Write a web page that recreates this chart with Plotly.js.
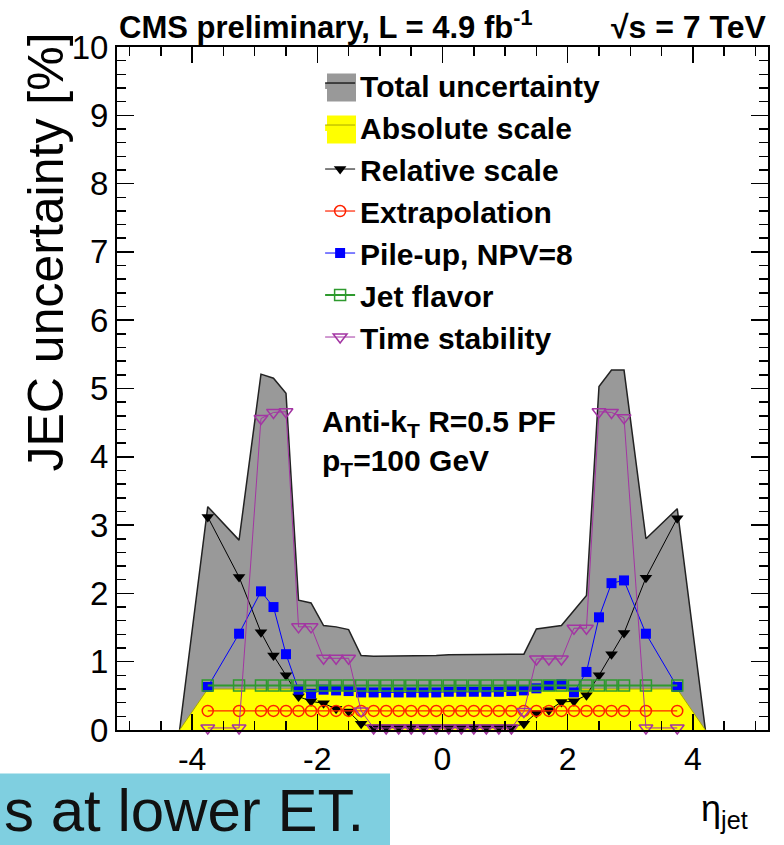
<!DOCTYPE html>
<html>
<head>
<meta charset="utf-8">
<script src="https://cdn.plot.ly/plotly-3.0.1.min.js"></script>
<style>
  html, body { margin: 0; padding: 0; background: #ffffff; }
  #chart { width: 784px; height: 845px; }
</style>
</head>
<body>
<div id="chart"></div>
<script>
// ---- data ----
const bandEta = [-4.2, -3.75, -3.25, -2.9, -2.7, -2.5, -2.3, -2.1, -1.9, -1.7, -1.5, -1.3,
  -1.1, -0.9, -0.7, -0.5, -0.3, -0.1, 0.1, 0.3, 0.5, 0.7, 0.9, 1.1,
  1.3, 1.5, 1.7, 1.9, 2.1, 2.3, 2.5, 2.7, 2.9, 3.25, 3.75, 4.2];
const totalUnc = [0, 3.27, 2.78, 5.21, 5.15, 4.93, 1.90, 1.86, 1.53, 1.51, 1.47, 1.09,
  1.08, 1.08, 1.08, 1.09, 1.09, 1.09, 1.10, 1.10, 1.10, 1.11, 1.11, 1.11,
  1.11, 1.48, 1.50, 1.53, 1.75, 1.97, 5.03, 5.27, 5.27, 2.80, 3.24, 0];
const absoluteScale = [0, 0.6, 0.6, 0.6, 0.6, 0.6, 0.6, 0.6, 0.6, 0.6, 0.6, 0.6,
  0.6, 0.6, 0.6, 0.6, 0.6, 0.6, 0.6, 0.6, 0.6, 0.6, 0.6, 0.6,
  0.6, 0.6, 0.6, 0.6, 0.6, 0.6, 0.6, 0.6, 0.6, 0.6, 0.6, 0];

const etaBins = [-3.75, -3.25, -2.9, -2.7, -2.5, -2.3, -2.1, -1.9, -1.7, -1.5, -1.3,
  -1.1, -0.9, -0.7, -0.5, -0.3, -0.1, 0.1, 0.3, 0.5, 0.7, 0.9, 1.1,
  1.3, 1.5, 1.7, 1.9, 2.1, 2.3, 2.5, 2.7, 2.9, 3.25, 3.75];
const relativeScale = [3.12, 2.24, 1.43, 1.09, 0.80, 0.49, 0.42, 0.39, 0.31, 0.27, 0.09,
  0.04, 0.04, 0.04, 0.04, 0.04, 0.04, 0.04, 0.04, 0.04, 0.04, 0.04, 0.04,
  0.09, 0.25, 0.29, 0.41, 0.42, 0.51, 0.80, 1.11, 1.42, 2.23, 3.10];
const extrapolation = [0.28, 0.28, 0.28, 0.28, 0.28, 0.28, 0.28, 0.28, 0.28, 0.28, 0.28,
  0.28, 0.28, 0.28, 0.28, 0.28, 0.28, 0.28, 0.28, 0.28, 0.28, 0.28, 0.28,
  0.28, 0.28, 0.28, 0.28, 0.28, 0.28, 0.28, 0.28, 0.28, 0.28, 0.28];
const pileUp = [0.63, 1.41, 2.03, 1.80, 1.11, 0.59, 0.53, 0.59, 0.58, 0.57, 0.55,
  0.55, 0.55, 0.55, 0.55, 0.55, 0.55, 0.56, 0.56, 0.56, 0.56, 0.56, 0.57,
  0.58, 0.61, 0.65, 0.67, 0.55, 0.85, 1.65, 2.15, 2.19, 1.41, 0.63];
const jetFlavor = [0.65, 0.65, 0.65, 0.65, 0.65, 0.65, 0.65, 0.65, 0.65, 0.65, 0.65,
  0.65, 0.65, 0.65, 0.65, 0.65, 0.65, 0.65, 0.65, 0.65, 0.65, 0.65, 0.65,
  0.65, 0.65, 0.65, 0.65, 0.65, 0.65, 0.65, 0.65, 0.65, 0.65, 0.65];
const timeStability = [0.03, 0.03, 4.56, 4.65, 4.66, 1.51, 1.51, 1.05, 1.05, 1.05, 0.28,
  0.03, 0.03, 0.03, 0.03, 0.03, 0.03, 0.03, 0.03, 0.03, 0.03, 0.03, 0.03,
  0.27, 1.04, 1.04, 1.04, 1.49, 1.49, 4.66, 4.65, 4.57, 0.03, 0.03];

const seriesNames = ["Total uncertainty", "Absolute scale", "Relative scale", "Extrapolation",
  "Pile-up, NPV=8", "Jet flavor", "Time stability"];
const xTickVals = [-4, -2, 0, 2, 4];
const xTickText = ["-4", "-2", "0", "2", "4"];

// ---- chart ----
const FONT = "Liberation Sans, Arial, Helvetica, sans-serif";
const W = 651, H = 683, L0 = 117, B0 = 729.5;
const px = (x) => (x - L0) / W;          // pixel -> paper x
const py = (y) => (B0 - y) / H;          // pixel -> paper y

const traces = [
  { x: bandEta, y: totalUnc, name: seriesNames[0], type: "scatter", mode: "lines",
    fill: "tozeroy", fillcolor: "#999999", line: { color: "#222222", width: 1.5 } },
  { x: bandEta, y: absoluteScale, name: seriesNames[1], type: "scatter", mode: "lines",
    fill: "tozeroy", fillcolor: "#ffff00", line: { color: "#a8a800", width: 1 } },
  { x: etaBins, y: relativeScale, name: seriesNames[2], type: "scatter", mode: "lines+markers",
    line: { color: "#000000", width: 1 }, cliponaxis: false,
    marker: { symbol: "triangle-down", size: 11, color: "#000000" } },
  { x: etaBins, y: extrapolation, name: seriesNames[3], type: "scatter", mode: "lines+markers",
    line: { color: "#ff2200", width: 1.2 }, cliponaxis: false,
    marker: { symbol: "circle-open", size: 11, color: "#ff2200", line: { width: 1.5 } } },
  { x: etaBins, y: pileUp, name: seriesNames[4], type: "scatter", mode: "lines+markers",
    line: { color: "#0000ff", width: 1 }, cliponaxis: false,
    marker: { symbol: "square", size: 10, color: "#0000ff" } },
  { x: etaBins, y: jetFlavor, name: seriesNames[5], type: "scatter", mode: "lines+markers",
    line: { color: "#2e9a2e", width: 2 }, cliponaxis: false,
    marker: { symbol: "square-open", size: 11, color: "#2e9a2e", line: { width: 1.5 } } },
  { x: etaBins, y: timeStability, name: seriesNames[6], type: "scatter", mode: "lines+markers",
    line: { color: "#a335a3", width: 1 }, cliponaxis: false,
    marker: { symbol: "triangle-down-open", size: 12, color: "#a335a3", line: { width: 1.5 } } }
];

const layout = {
  width: 784, height: 845,
  margin: { l: 117, r: 16, t: 47, b: 115, pad: 0 },
  paper_bgcolor: "#ffffff", plot_bgcolor: "#ffffff",
  font: { family: FONT, color: "#000000" },
  showlegend: true,
  legend: {
    x: 0.312, y: 0.9824, xanchor: "left", yanchor: "top",
    bgcolor: "rgba(0,0,0,0)", borderwidth: 0,
    font: { family: FONT, size: 30, weight: 700, color: "#000000" },
    itemwidth: 30, tracegroupgap: 0
  },
  xaxis: {
    range: [-5.2, 5.2], tickmode: "array", tickvals: xTickVals, ticktext: xTickText,
    ticks: "inside", ticklen: 16, tickwidth: 1.5, tickcolor: "#000000",
    minor: { tickmode: "linear", tick0: 0, dtick: 0.5, ticks: "inside", ticklen: 9, tickwidth: 1.5, tickcolor: "#000000" },
    showline: true, linecolor: "#000000", linewidth: 2, mirror: "allticks",
    showgrid: false, zeroline: false,
    tickfont: { family: FONT, size: 32, color: "#000000" }
  },
  yaxis: {
    range: [0, 10], tickmode: "linear", tick0: 0, dtick: 1,
    ticks: "inside", ticklen: 17, tickwidth: 1.5, tickcolor: "#000000",
    minor: { tickmode: "linear", tick0: 0, dtick: 0.2, ticks: "inside", ticklen: 9, tickwidth: 1.5, tickcolor: "#000000" },
    showline: true, linecolor: "#000000", linewidth: 2, mirror: "allticks",
    showgrid: false, zeroline: false,
    tickfont: { family: FONT, size: 33, color: "#000000" }
  },
  shapes: [
    // legend boxes for the two bands (square swatches as in the reference)
    { type: "rect", xref: "paper", yref: "paper", x0: px(327), x1: px(356), y0: py(101), y1: py(73),
      fillcolor: "#999999", line: { width: 0 }, layer: "above" },
    { type: "rect", xref: "paper", yref: "paper", x0: px(327), x1: px(356), y0: py(143), y1: py(115),
      fillcolor: "#ffff00", line: { width: 0 }, layer: "above" },
    // slide overlay box at the bottom left
    { type: "rect", xref: "paper", yref: "paper", x0: px(0), x1: px(390), y0: py(846), y1: py(773),
      fillcolor: "#7fcfe0", line: { width: 0 }, layer: "above" }
  ],
  annotations: [
    { xref: "paper", yref: "paper", x: 0, y: 1.0, xanchor: "left", yanchor: "bottom",
      text: "CMS preliminary, L = 4.9 fb<sup>-1</sup>", showarrow: false,
      font: { family: FONT, size: 31, weight: 700, color: "#000000" } },
    { xref: "paper", yref: "paper", x: 1, y: 1.0, xanchor: "right", yanchor: "bottom",
      text: "√s = 7 TeV", showarrow: false,
      font: { family: FONT, size: 32, weight: 700, color: "#000000" } },
    { xref: "paper", yref: "paper", x: px(320), y: py(423), xanchor: "left", yanchor: "middle",
      text: "Anti-k<sub>T</sub> R=0.5 PF", showarrow: false,
      font: { family: FONT, size: 30, weight: 700, color: "#000000" } },
    { xref: "paper", yref: "paper", x: px(320), y: py(462), xanchor: "left", yanchor: "middle",
      text: "p<sub>T</sub>=100 GeV", showarrow: false,
      font: { family: FONT, size: 30, weight: 700, color: "#000000" } },
    { xref: "paper", yref: "paper", x: px(45), y: py(252), xanchor: "center", yanchor: "middle",
      text: "JEC uncertainty [%]", textangle: -90, showarrow: false,
      font: { family: FONT, size: 50, color: "#000000" } },
    { xref: "paper", yref: "paper", x: px(750), y: py(810), xanchor: "right", yanchor: "middle",
      text: "η<sub>jet</sub>", showarrow: false,
      font: { family: FONT, size: 36, color: "#000000" } },
    { xref: "paper", yref: "paper", x: px(2), y: py(810), xanchor: "left", yanchor: "middle",
      text: "s at lower ET.", showarrow: false,
      font: { family: FONT, size: 60, color: "#111111" } }
  ]
};

Plotly.newPlot("chart", traces, layout, { staticPlot: true, displayModeBar: false });
</script>
</body>
</html>
